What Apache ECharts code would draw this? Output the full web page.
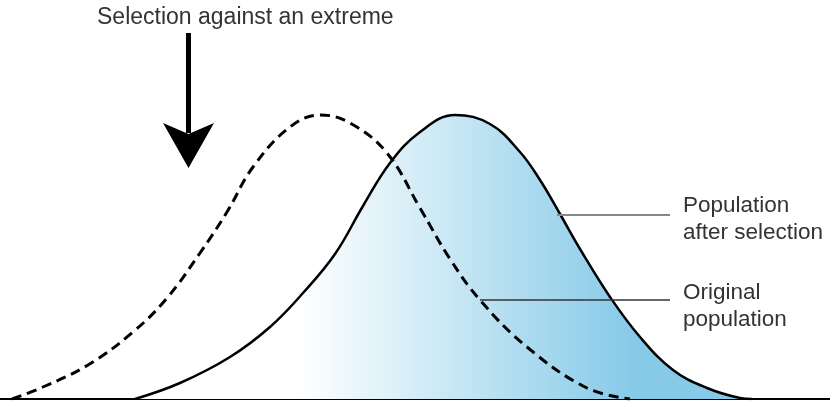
<!DOCTYPE html>
<html>
<head>
<meta charset="utf-8">
<script src="https://cdn.jsdelivr.net/npm/echarts@6/dist/echarts.min.js"></script>
<style>html,body{margin:0;padding:0;background:#fff}#c{width:830px;height:401px}</style>
</head>
<body>
<div id="c"></div>
<script>
// Trait value positions and frequencies
var afterX = [135,180,230,270,303,335,363,390,420,455,490,520,540,560,580,610,640,673,707,740,752];
var afterY = [0,16,42,72,106,145,193,236,267,284,275,247,219,185,150,102,62,29,11,1,0];
var origX = [12,43,88,133,167,200,227,253,290,320,350,387,420,450,480,527,587,630];
var origY = [0,12,34,67,101,146,187,232,272,284,276,246,191,140,99,52,11,0];
var titleText = 'Selection against an extreme';
var afterLabel = ['Population', 'after selection'];
var origLabel = ['Original', 'population'];

function zip(xs, ys){ return xs.map(function(x,i){ return [x, ys[i]]; }); }

var chart = echarts.init(document.getElementById('c'));
var font = '"Liberation Sans", Arial, Helvetica, sans-serif';
chart.setOption({
  animation: false,
  grid: {left: 0, right: 0, top: 0, bottom: 2},
  xAxis: {type: 'value', min: 0, max: 830, show: true,
    axisLine: {show: true, lineStyle: {color: '#000', width: 2}},
    axisTick: {show: false}, axisLabel: {show: false}, splitLine: {show: false}},
  yAxis: {type: 'value', min: 0, max: 399, show: false, splitLine: {show: false}},
  series: [
    {
      type: 'line', name: 'after', data: zip(afterX, afterY), smooth: 0.4, symbol: 'none',
      lineStyle: {color: '#000', width: 2.5},
      areaStyle: {opacity: 1, color: {type: 'linear', x: 300, y: 0, x2: 635, y2: 0, global: true,
        colorStops: [{offset: 0, color: '#ffffff'}, {offset: 1, color: '#86cae8'}]}},
      markLine: {symbol: 'none', silent: true, label: {show: false},
        lineStyle: {color: '#888', width: 2, type: 'solid'},
        data: [[{coord: [557, 184]}, {coord: [670, 184]}]]},
      z: 2
    },
    {
      type: 'line', name: 'original', data: zip(origX, origY), smooth: 0.4, symbol: 'none',
      lineStyle: {color: '#000', width: 3, type: [10, 6]},
      markLine: {symbol: 'none', silent: true, label: {show: false},
        lineStyle: {color: '#333', width: 1.5, type: 'solid'},
        data: [[{coord: [480, 99]}, {coord: [670, 99]}]]},
      z: 3
    }
  ],
  graphic: [
    {type: 'text', left: 97, top: 6, style: {text: titleText, font: '23px ' + font, fill: '#333'}},
    {type: 'rect', shape: {x: 186, y: 33, width: 5, height: 100}, style: {fill: '#000'}},
    {type: 'polygon', shape: {points: [[163,123],[188.5,134],[214,123],[188.5,168]]}, style: {fill: '#000'}},
    {type: 'text', x: 683, y: 192, style: {text: afterLabel.join('\n'), font: '22.5px ' + font, lineHeight: 27, fill: '#333'}},
    {type: 'text', x: 683, y: 279, style: {text: origLabel.join('\n'), font: '22.5px ' + font, lineHeight: 27, fill: '#333'}}
  ]
});
</script>
</body>
</html>
